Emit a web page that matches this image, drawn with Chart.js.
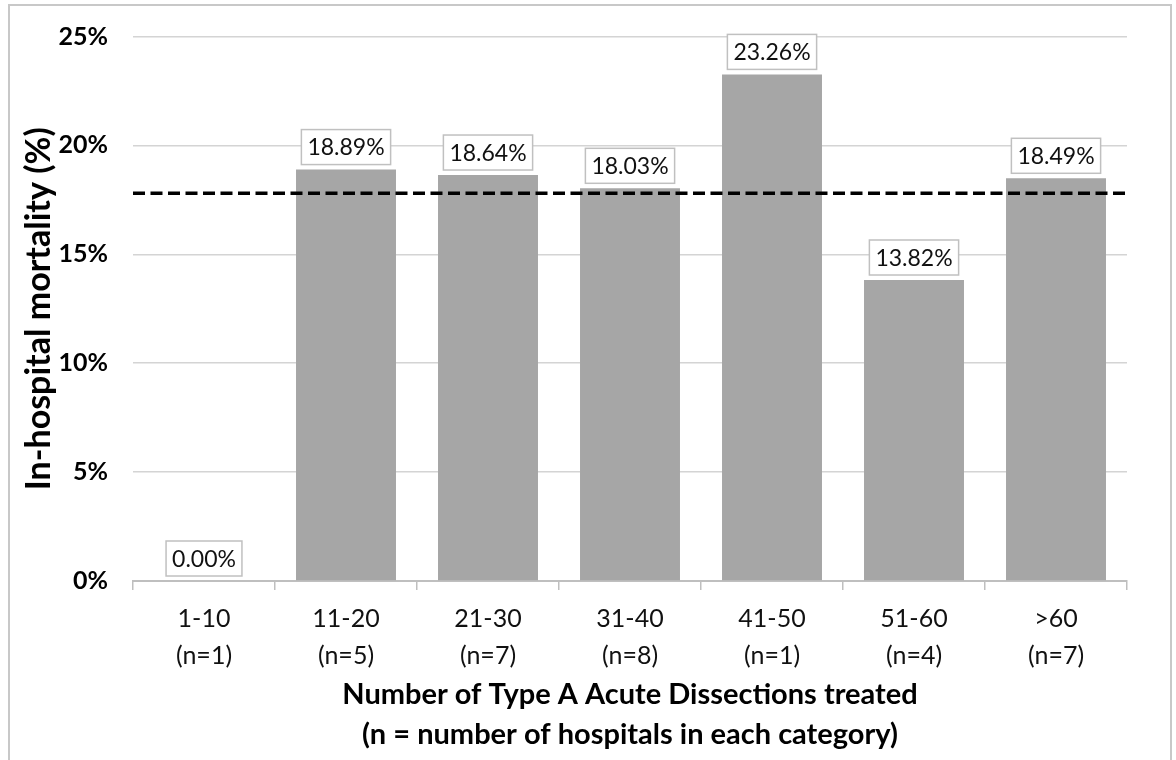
<!DOCTYPE html>
<html>
<head>
<meta charset="utf-8">
<script src="https://cdn.jsdelivr.net/npm/chart.js@4.4.1/dist/chart.umd.min.js"></script>
<style>
  html, body { margin: 0; padding: 0; background: #fff; }
  #wrap { width: 1176px; height: 760px; position: relative; }
</style>
</head>
<body>
<div id="wrap"><canvas id="c" width="1176" height="760"></canvas></div>
<script>
// ---- data ----
const categories = [['1-10', '(n=1)'], ['11-20', '(n=5)'], ['21-30', '(n=7)'], ['31-40', '(n=8)'], ['41-50', '(n=1)'], ['51-60', '(n=4)'], ['>60', '(n=7)']];
const mortality = [0.00, 18.89, 18.64, 18.03, 23.26, 13.82, 18.49];
const overallMortality = 17.8;
const yTicks = [0, 5, 10, 15, 20, 25];
const yTitle = 'In-hospital mortality (%)';
const xTitle = ['Number of Type A Acute Dissections treated', '(n = number of hospitals in each category)'];

const FONT = 'Lato, "Open Sans", sans-serif';

const framePlugin = {
  id: 'frame',
  beforeDraw(chart) {
    const ctx = chart.ctx;
    ctx.save();
    ctx.fillStyle = '#fff';
    ctx.fillRect(0, 0, chart.width, chart.height);
    ctx.strokeStyle = '#c8c8c8';
    ctx.lineWidth = 2;
    ctx.strokeRect(9, 5, 1162, 800);
    ctx.restore();
  }
};

const overlayPlugin = {
  id: 'overlay',
  afterDatasetsDraw(chart) {
    const ctx = chart.ctx;
    const area = chart.chartArea;
    const y = chart.scales.y.getPixelForValue(overallMortality);
    ctx.save();
    ctx.strokeStyle = '#000';
    ctx.lineWidth = 3.5;
    ctx.setLineDash([12, 5.5]);
    ctx.beginPath();
    ctx.moveTo(area.left, y);
    ctx.lineTo(area.right, y);
    ctx.stroke();
    ctx.restore();

    const meta = chart.getDatasetMeta(0);
    ctx.save();
    ctx.font = '23px ' + FONT;
    ctx.textAlign = 'center';
    ctx.textBaseline = 'middle';
    meta.data.forEach((bar, i) => {
      const txt = mortality[i].toFixed(2) + '%';
      const w = ctx.measureText(txt).width + 12;
      const h = 35;
      const bottom = bar.y - 5;
      const top = bottom - h;
      ctx.fillStyle = '#fff';
      ctx.fillRect(bar.x - w / 2, top, w, h);
      ctx.strokeStyle = '#c0c0c0';
      ctx.lineWidth = 1.5;
      ctx.strokeRect(bar.x - w / 2, top, w, h);
      ctx.fillStyle = '#111';
      ctx.fillText(txt, bar.x, top + h / 2 + 1);
    });
    ctx.restore();
  }
};

new Chart(document.getElementById('c'), {
  type: 'bar',
  data: {
    labels: categories,
    datasets: [{
      data: mortality,
      backgroundColor: '#a6a6a6',
      borderWidth: 0,
      barPercentage: 0.704,
      categoryPercentage: 1.0
    }]
  },
  options: {
    responsive: false,
    animation: false,
    devicePixelRatio: 1,
    layout: { padding: { left: 0, top: 36.5, right: 49, bottom: 0 } },
    plugins: { legend: { display: false }, tooltip: { enabled: false } },
    scales: {
      x: {
        grid: { display: true, drawOnChartArea: false, drawTicks: true, tickLength: 9, color: '#bfbfbf', lineWidth: 1.5, offset: true },
        border: { display: true, color: '#bfbfbf', width: 2 },
        ticks: { color: '#111', font: { family: FONT, size: 25, lineHeight: '37px' }, padding: 10, maxRotation: 0, autoSkip: false },
        title: { display: true, text: xTitle, color: '#000', font: { family: FONT, size: 29, weight: 'bold', lineHeight: '40px' }, padding: { top: 0, bottom: 5 } },
        afterFit(scale) { scale.height = 179; }
      },
      y: {
        min: 0, max: 25,
        afterBuildTicks(scale) { scale.ticks = yTicks.map(v => ({ value: v })); },
        grid: { color: '#d4d4d4', lineWidth: 1.5, drawTicks: false },
        border: { display: false },
        ticks: { color: '#000', font: { family: FONT, size: 25, weight: 'bold' }, padding: 25, callback: v => v + '%' },
        title: { display: true, text: yTitle, color: '#000', font: { family: FONT, size: 34, weight: 'bold', lineHeight: 1.2 }, padding: { top: 19, bottom: 0 } },
        afterFit(scale) { scale.width = 133; scale.paddingTop = 0; scale.paddingBottom = 0; }
      }
    }
  },
  plugins: [framePlugin, overlayPlugin]
});
</script>
</body>
</html>
